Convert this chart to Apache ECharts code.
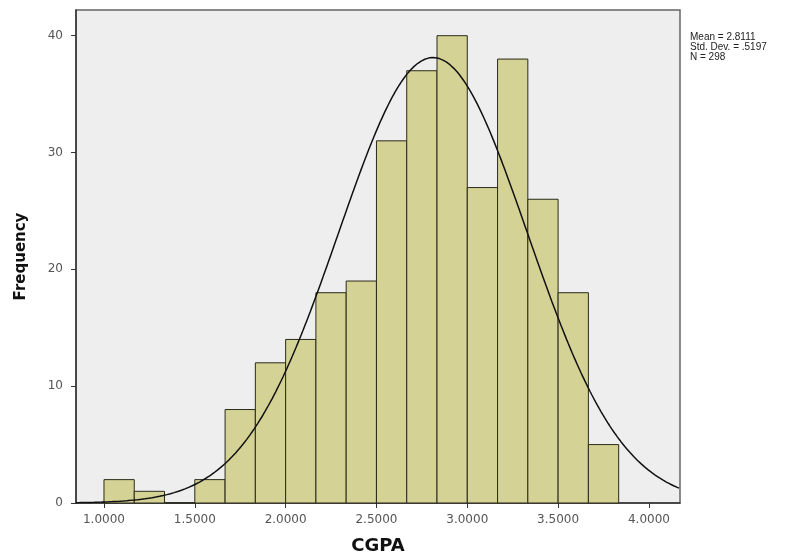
<!DOCTYPE html>
<html>
<head>
<meta charset="utf-8">
<script src="https://cdn.jsdelivr.net/npm/echarts@6/dist/echarts.min.js"></script>
<style>
  html, body { margin: 0; padding: 0; background: #ffffff; }
  #chart { width: 812px; height: 556px; }
</style>
</head>
<body>
<div id="chart"></div>
<script>
// Histogram of CGPA with fitted normal curve
const binStarts = [1.0, 1.1667, 1.3333, 1.5, 1.6667, 1.8333, 2.0, 2.1667, 2.3333,
                   2.5, 2.6667, 2.8333, 3.0, 3.1667, 3.3333, 3.5, 3.6667];
const binWidth = 1 / 6;
const frequencies = [2, 1, 0, 2, 8, 12, 14, 18, 19, 31, 37, 40, 27, 38, 26, 18, 5];
const xTicks = [1.0, 1.5, 2.0, 2.5, 3.0, 3.5, 4.0];
const yTicks = [0, 10, 20, 30, 40];
const mean = 2.8111;
const stdDev = 0.5197;
const n = 298;
const xMin = 0.846, xMax = 4.171, yMax = 42.2;

const binData = binStarts.map((s, i) => [s, s + binWidth, frequencies[i]]);

// expected count per bin under the normal distribution with the stated mean / sd / N
const curve = [];
for (let x = xMin; x <= xMax + 1e-9; x += 0.01) {
  const z = (x - mean) / stdDev;
  const y = n * binWidth * Math.exp(-0.5 * z * z) / (stdDev * Math.sqrt(2 * Math.PI));
  curve.push([x, y]);
}

const font = '"Liberation Sans", Arial, sans-serif';
const wideFont = '"DejaVu Sans", Verdana, sans-serif';
const chart = echarts.init(document.getElementById('chart'), null, { renderer: 'canvas' });
chart.setOption({
  animation: false,
  backgroundColor: '#ffffff',
  grid: {
    left: 76, right: 132, top: 10, bottom: 53,
    outerBoundsMode: 'none', containLabel: false,
    show: true, backgroundColor: '#eeeeef', borderColor: '#666666', borderWidth: 1.5
  },
  xAxis: {
    type: 'value', min: xMin, max: xMax,
    name: 'CGPA', nameLocation: 'middle', nameGap: 34,
    nameTextStyle: { fontFamily: wideFont, fontWeight: 'bold', fontSize: 18, color: '#111' },
    axisLine: { show: true, onZero: false, lineStyle: { color: '#333', width: 1.5 } },
    axisTick: { show: true, length: 5, customValues: xTicks, lineStyle: { color: '#333' } },
    axisLabel: {
      customValues: xTicks, margin: 11, fontFamily: wideFont, fontSize: 12, color: '#555',
      formatter: v => v.toFixed(4)
    },
    splitLine: { show: false }
  },
  yAxis: {
    type: 'value', min: 0, max: yMax,
    name: 'Frequency', nameLocation: 'middle', nameGap: 47,
    nameTextStyle: { fontFamily: wideFont, fontWeight: 'bold', fontSize: 15, color: '#111' },
    axisLine: { show: true, lineStyle: { color: '#333', width: 1.5 } },
    axisTick: { show: true, length: 5, customValues: yTicks, lineStyle: { color: '#333' } },
    axisLabel: { customValues: yTicks, margin: 13, fontFamily: wideFont, fontSize: 12, color: '#555' },
    splitLine: { show: false }
  },
  graphic: [{
    type: 'text', left: 690, top: 32,
    style: {
      text: 'Mean = 2.8111\nStd. Dev. = .5197\nN = 298',
      fontFamily: font, fontSize: 10, lineHeight: 10, fill: '#222'
    }
  }],
  series: [
    {
      type: 'custom',
      data: binData,
      encode: { x: [0, 1], y: 2 },
      renderItem: (params, api) => {
        const p0 = api.coord([api.value(0), api.value(2)]);
        const p1 = api.coord([api.value(1), 0]);
        return {
          type: 'rect',
          shape: { x: p0[0], y: p0[1], width: p1[0] - p0[0], height: p1[1] - p0[1] },
          style: { fill: '#d5d296', stroke: '#2a2a1a', lineWidth: 1 }
        };
      },
      z: 2
    },
    {
      type: 'line',
      data: curve,
      showSymbol: false,
      smooth: false,
      lineStyle: { color: '#111', width: 1.5 },
      z: 3
    }
  ]
});
</script>
</body>
</html>
